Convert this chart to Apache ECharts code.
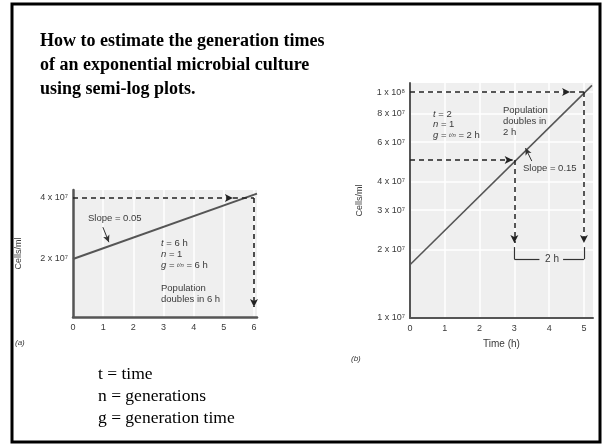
<!DOCTYPE html>
<html>
<head>
<meta charset="utf-8">
<script src="https://cdn.jsdelivr.net/npm/echarts@6/dist/echarts.min.js"></script>
<style>
  html, body { margin: 0; padding: 0; background: #fff; }
  #chart { width: 602px; height: 444px; }
</style>
</head>
<body>
<div id="chart"></div>
<script>
/* jshint esversion: 6 */

// ---------------------------------------------------------------------------
// Data (cells/ml against hours)
let leftHours = [0, 6.1];
let leftCells = [2.0e7, 4.2e7];
let rightHours = [0, 5.23];
let rightCells = [1.72e7, 1.07e8];

let leftXTicks = [0, 1, 2, 3, 4, 5, 6];
let leftYTicks = [2e7, 4e7];
let rightXTicks = [0, 1, 2, 3, 4, 5];
let rightYTicks = [1e7, 2e7, 3e7, 4e7, 6e7, 8e7, 1e8];

// dashed read-off guides: [from, to, arrow at end]
let leftGuides = [
  [[0, 4e7], [5.3, 4e7], true],
  [[5.3, 4e7], [6, 4e7], false],
  [[6, 4e7], [6, 1.16e7], true]
];
let rightGuides = [
  [[0, 1e8], [4.6, 1e8], true],
  [[4.6, 1e8], [5, 1e8], false],
  [[0, 5e7], [2.95, 5e7], true],
  [[5, 1e8], [5, 2.15e7], true],
  [[3, 5e7], [3, 2.15e7], true]
];
// "2 h" bracket
let bracket = [
  [[3, 2.06e7], [3, 1.82e7]],
  [[3, 1.82e7], [3.72, 1.82e7]],
  [[4.4, 1.82e7], [5, 1.82e7]],
  [[5, 1.82e7], [5, 2.06e7]]
];
// small pointers from the slope labels to the line
let leftPointer = [[0.99, 2.87e7], [1.19, 2.42e7]];
let rightPointer = [[3.5, 4.95e7], [3.32, 5.65e7]];

// ---------------------------------------------------------------------------
let sansFont = '"Liberation Sans", Arial, sans-serif';
let serifFont = '"Liberation Serif", "Times New Roman", serif';
let axisColor = '#555';
let textColor = '#3a3a3a';
let supDigits = {'0': '⁰', '1': '¹', '2': '²', '3': '³', '4': '⁴', '5': '⁵', '6': '⁶', '7': '⁷', '8': '⁸', '9': '⁹'};

function sciLabel(logVal) {
  'use strict';
  let e = Math.floor(logVal + 1e-9);
  let m = Math.round(Math.pow(10, logVal - e));
  let s = String(e).split('').map(function (d) { return supDigits[d]; }).join('');
  return m + ' x 10' + s;
}

function toPt(p) {
  'use strict';
  return [p[0], Math.log10(p[1])];
}

function guideLines(list) {
  'use strict';
  return list.map(function (g) {
    return [
      {coord: toPt(g[0]), symbol: 'none'},
      {coord: toPt(g[1]), symbol: g[2] ? 'arrow' : 'none'}
    ];
  });
}

function plainLines(list) {
  'use strict';
  return list.map(function (g) {
    return [{coord: toPt(g[0])}, {coord: toPt(g[1])}];
  });
}

function xAxisCfg(gridIndex, max, ticks, width, name) {
  'use strict';
  return {
    gridIndex: gridIndex,
    type: 'value',
    min: 0,
    max: max,
    name: name,
    nameLocation: 'middle',
    nameGap: 21,
    nameTextStyle: {color: textColor, fontSize: 10, fontFamily: sansFont},
    axisLine: {show: true, onZero: false, lineStyle: {color: axisColor, width: width}},
    axisTick: {show: false, customValues: ticks},
    axisLabel: {customValues: ticks, color: textColor, fontSize: 9, fontFamily: sansFont, margin: 6},
    splitLine: {show: true, lineStyle: {color: '#fff', width: 1.5}}
  };
}

function yAxisCfg(gridIndex, min, max, ticks, width, nameGap, split) {
  'use strict';
  let logTicks = ticks.map(function (v) { return Math.log10(v); });
  return {
    gridIndex: gridIndex,
    type: 'value',
    min: min,
    max: max,
    name: 'Cells/ml',
    nameLocation: 'middle',
    nameRotate: 90,
    nameGap: nameGap,
    nameTextStyle: {color: textColor, fontSize: 9, fontFamily: sansFont},
    axisLine: {show: true, onZero: false, lineStyle: {color: axisColor, width: width}},
    axisTick: {show: false, customValues: logTicks},
    axisLabel: {
      customValues: logTicks,
      color: textColor,
      fontSize: 9,
      fontFamily: sansFont,
      margin: 5,
      formatter: sciLabel
    },
    splitLine: {show: split, lineStyle: {color: '#fff', width: 1.5}}
  };
}

function txt(x, y, text, extra) {
  'use strict';
  let style = {
    x: x, y: y, text: text,
    fill: textColor, fontSize: 9.5, fontFamily: sansFont,
    textVerticalAlign: 'middle',
    rich: {
      i: {fontStyle: 'italic', fontSize: 9.5, fontFamily: sansFont, fill: textColor},
      f: {fontStyle: 'italic', fontSize: 6, fontFamily: sansFont, fill: textColor}
    }
  };
  Object.assign(style, extra || {});
  return {type: 'text', silent: true, z: 100, style: style};
}

let chart = echarts.init(document.getElementById('chart'));

let option = {
  animation: false,
  grid: [
    {left: 73, top: 190, width: 184, height: 127, show: true, backgroundColor: '#efefef', borderWidth: 0},
    {left: 410, top: 83, width: 183, height: 235, show: true, backgroundColor: '#efefef', borderWidth: 0}
  ],
  xAxis: [
    xAxisCfg(0, 6.1, leftXTicks, 2.5, ''),
    xAxisCfg(1, 5.26, rightXTicks, 2, 'Time (h)')
  ],
  yAxis: [
    yAxisCfg(0, 7.015, 7.641, leftYTicks, 2.5, 50, false),
    yAxisCfg(1, 7, 8.04, rightYTicks, 2, 46, true)
  ],
  series: [
    {
      type: 'line',
      xAxisIndex: 0,
      yAxisIndex: 0,
      silent: true,
      showSymbol: false,
      data: leftHours.map(function (h, i) { return [h, Math.log10(leftCells[i])]; }),
      lineStyle: {color: '#555', width: 2},
      markLine: {
        silent: true,
        symbolSize: [6, 8],
        label: {show: false},
        lineStyle: {color: '#222', width: 1.6, type: [5, 4]},
        data: guideLines(leftGuides)
      }
    },
    {
      type: 'line',
      xAxisIndex: 1,
      yAxisIndex: 1,
      silent: true,
      showSymbol: false,
      data: rightHours.map(function (h, i) { return [h, Math.log10(rightCells[i])]; }),
      lineStyle: {color: '#555', width: 1.6},
      markLine: {
        silent: true,
        symbolSize: [6, 8],
        label: {show: false},
        lineStyle: {color: '#222', width: 1.5, type: [5, 4]},
        data: guideLines(rightGuides)
      }
    },
    {
      type: 'line',
      xAxisIndex: 1,
      yAxisIndex: 1,
      silent: true,
      data: [],
      markLine: {
        silent: true,
        symbol: 'none',
        label: {show: false},
        lineStyle: {color: '#333', width: 1.2, type: 'solid'},
        data: plainLines(bracket)
      }
    },
    {
      type: 'line',
      xAxisIndex: 1,
      yAxisIndex: 1,
      silent: true,
      data: [],
      markLine: {
        silent: true,
        symbol: ['none', 'arrow'],
        symbolSize: [5, 7],
        label: {show: false},
        lineStyle: {color: '#333', width: 1, type: 'solid'},
        data: plainLines([rightPointer])
      }
    },
    {
      type: 'line',
      xAxisIndex: 0,
      yAxisIndex: 0,
      silent: true,
      data: [],
      markLine: {
        silent: true,
        symbol: ['none', 'arrow'],
        symbolSize: [5, 7],
        label: {show: false},
        lineStyle: {color: '#333', width: 1, type: 'solid'},
        data: plainLines([leftPointer])
      }
    }
  ],
  graphic: [
    {
      type: 'rect',
      silent: true,
      z: 100,
      shape: {x: 12, y: 4, width: 588, height: 438},
      style: {fill: 'none', stroke: '#000', lineWidth: 3}
    },
    txt(40, 41, 'How to estimate the generation times', {fontFamily: serifFont, fontSize: 18, fontWeight: 'bold', fill: '#000'}),
    txt(40, 65, 'of an exponential microbial culture', {fontFamily: serifFont, fontSize: 18, fontWeight: 'bold', fill: '#000'}),
    txt(40, 89, 'using semi-log plots.', {fontFamily: serifFont, fontSize: 18, fontWeight: 'bold', fill: '#000'}),

    txt(98, 374, 't = time', {fontFamily: serifFont, fontSize: 17.5, fill: '#000'}),
    txt(98, 396, 'n = generations', {fontFamily: serifFont, fontSize: 17.5, fill: '#000'}),
    txt(98, 418, 'g = generation time', {fontFamily: serifFont, fontSize: 17.5, fill: '#000'}),

    // panel (a)
    txt(88, 218, 'Slope = 0.05'),
    txt(161, 243, '{i|t} = 6 h'),
    txt(161, 254, '{i|n} = 1'),
    txt(161, 265, '{i|g} = {f|t/n} = 6 h'),
    txt(161, 288, 'Population'),
    txt(161, 299, 'doubles in 6 h'),
    txt(15, 343, '(a)', {fontStyle: 'italic', fontSize: 8}),

    // panel (b)
    txt(433, 114, '{i|t} = 2'),
    txt(433, 124.5, '{i|n} = 1'),
    txt(433, 135, '{i|g} = {f|t/n} = 2 h'),
    txt(503, 110, 'Population'),
    txt(503, 121, 'doubles in'),
    txt(503, 132, '2 h'),
    txt(523, 168, 'Slope = 0.15'),
    txt(552, 259, '2 h', {textAlign: 'center', fontSize: 10}),
    txt(351, 359, '(b)', {fontStyle: 'italic', fontSize: 8})
  ]
};

chart.setOption(option);
</script>
</body>
</html>
